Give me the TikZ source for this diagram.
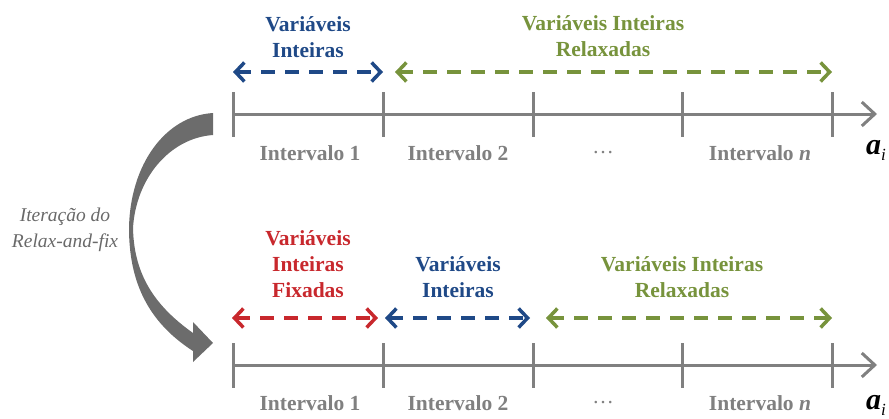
\documentclass[tikz,border=0pt]{standalone}
\usepackage{fontspec}
\setmainfont{Liberation Serif}
\usetikzlibrary{arrows.meta}
\definecolor{varblue}{RGB}{31,73,135}
\definecolor{varred}{RGB}{200,40,45}
\definecolor{vargreen}{RGB}{119,147,60}
\definecolor{axisgray}{RGB}{128,128,128}
\definecolor{bendgray}{RGB}{108,108,108}
\definecolor{stepgray}{RGB}{105,105,105}

\tikzset{
  barb/.tip={Straight Barb[length=9pt,width=19pt,line width=3.5pt]},
  axisline/.style={line width=3pt, axisgray, -{Straight Barb[length=13pt,width=24pt,line width=3pt]}},
  tickline/.style={line width=3pt, axisgray},
  varspan/.style={line width=3.5pt, dash pattern=on 14pt off 10pt, barb-barb},
  grouplbl/.style={font=\fontsize{21.5}{26}\selectfont\bfseries, align=center},
  intlbl/.style={font=\fontsize{21.5}{26}\selectfont\bfseries, text=axisgray},
  axlbl/.style={text=black},
}
\newcommand{\axname}{{\fontsize{30}{30}\selectfont\bfseries\itshape a}{\fontsize{17}{17}\selectfont\itshape\raisebox{-6pt}{i}}}

\begin{document}
\begin{tikzpicture}[x=1pt,y=-1pt]
    \useasboundingbox (0,0) rectangle (889,418);

    % tick positions of both axes
    \foreach \k/\x in {0/233,1/383,2/533,3/682,4/832}{
        \coordinate (t\k) at (\x,114);
        \coordinate (b\k) at (\x,365);
    }
    \coordinate (tend) at (877,114);
    \coordinate (bend) at (877,365);

    % axes and ticks
    \draw[axisline] (t0) -- (tend);
    \draw[axisline] (b0) -- (bend);
    \foreach \k in {0,...,4}{
        \draw[tickline] ([yshift=22]t\k) -- ([yshift=-23]t\k);
        \draw[tickline] ([yshift=22]b\k) -- ([yshift=-23]b\k);
    }

    % interval labels
    \node[intlbl] (ti1) at (310,153) {Intervalo 1};
    \node[intlbl] (ti2) at (458,153) {Intervalo 2};
    \node[intlbl] (ti3) at (603,153) {\mdseries\dots};
    \node[intlbl] (ti4) at (760,153) {Intervalo \textit{n}};
    \node[axlbl] (tai) at (876,150) {\axname};
    \node[intlbl] (bi1) at (310,403) {Intervalo 1};
    \node[intlbl] (bi2) at (458,403) {Intervalo 2};
    \node[intlbl] (bi3) at (603,403) {\mdseries\dots};
    \node[intlbl] (bi4) at (760,403) {Intervalo \textit{n}};
    \node[axlbl] (bai) at (876,405) {\axname};

    % top row of variables
    \coordinate (tb1) at (233,72);
    \coordinate (tb2) at (383,72);
    \coordinate (tg1) at (395,72);
    \coordinate (tg2) at (832,72);
    \draw[varspan, varblue] (tb1) -- (tb2);
    \draw[varspan, vargreen] (tg1) -- (tg2);
    \node[grouplbl, text=varblue] (tbl) at (308,37) {Variáveis\\Inteiras};
    \node[grouplbl, text=vargreen] (tgl) at (603,36) {Variáveis Inteiras\\Relaxadas};

    % bottom row of variables
    \coordinate (br1) at (232,318);
    \coordinate (br2) at (378,318);
    \coordinate (bb1) at (385,318);
    \coordinate (bb2) at (530,318);
    \coordinate (bg1) at (546,318);
    \coordinate (bg2) at (832,318);
    \draw[varspan, varred] (br1) -- (br2);
    \draw[varspan, varblue] (bb1) -- (bb2);
    \draw[varspan, vargreen] (bg1) -- (bg2);
    \node[grouplbl, text=varred] (brl) at (308,264) {Variáveis\\Inteiras\\Fixadas};
    \node[grouplbl, text=varblue] (bbl) at (458,277) {Variáveis\\Inteiras};
    \node[grouplbl, text=vargreen] (bgl) at (682,277) {Variáveis Inteiras\\Relaxadas};

    % relax-and-fix step
    \fill[bendgray] (213,113) .. controls (165,116) and (130,165) .. (129,228)
        .. controls (129,282) and (148,322) .. (193,351)
        -- (193,362) -- (213,343) -- (193,322) -- (193,333)
        .. controls (158,308) and (134,278) .. (133,228)
        .. controls (136,178) and (170,138) .. (213,135) -- cycle;
    \node[font=\fontsize{19.5}{26}\selectfont\itshape, text=stepgray, align=center]
        (step) at (65,230) {Iteração do\\Relax-and-fix};
\end{tikzpicture}
\end{document}
